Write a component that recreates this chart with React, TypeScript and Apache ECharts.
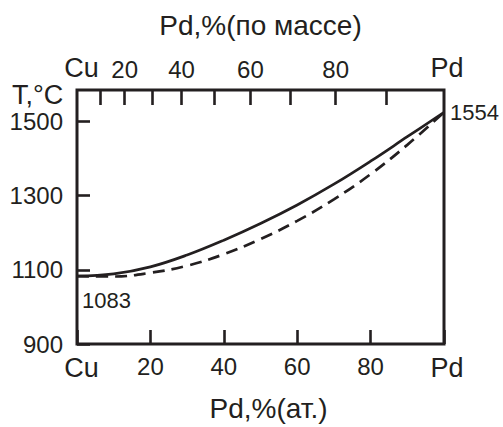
import React, { useEffect, useRef } from "react";
import * as echarts from "echarts";

// atomic % Pd
const atPct = [0, 10, 20, 30, 40, 50, 60, 70, 80, 90, 100];
// liquidus (solid line), °C
const liquidus = [1083, 1089, 1108, 1140, 1180, 1225, 1275, 1331, 1393, 1459, 1525];
// solidus (dashed line), °C
const solidus = [1083, 1082, 1092, 1111, 1142, 1183, 1232, 1290, 1358, 1437, 1525];

const bottomLabels = [0, 20, 40, 60, 80, 100];
const topTickMass = [10, 20, 30, 40, 50, 60, 70, 80, 90];
const topLabelMass = [0, 20, 40, 60, 80, 100];
const yTicks = [900, 1100, 1300, 1500];

const M_PD = 106.42;
const M_CU = 63.55;
const massToAt = (w: number) => {
  if (w <= 0) return 0;
  if (w >= 100) return 100;
  const a = w / M_PD;
  const b = (100 - w) / M_CU;
  return (100 * a) / (a + b);
};
const atToMass = (x: number) => {
  if (x <= 0) return 0;
  if (x >= 100) return 100;
  const a = x * M_PD;
  const b = (100 - x) * M_CU;
  return (100 * a) / (a + b);
};
const endName = (v: number) =>
  v <= 0.001 ? "{c|Cu}" : v >= 99.999 ? "{p|Pd}" : String(Math.round(v));

const INK = "#231f20";
const FONT = "Liberation Sans, Arial, sans-serif";

export default function App() {
  const ref = useRef<HTMLDivElement>(null);
  useEffect(() => {
    if (!ref.current) return;
    const chart = echarts.init(ref.current, undefined, { renderer: "svg" });
    const tickStyle = { color: INK, width: 2.6 };
    const rich = {
      c: { fontSize: 27, fontFamily: FONT, color: INK, padding: [0, 0, 0, 9] },
      p: { fontSize: 27, fontFamily: FONT, color: INK, padding: [0, 0, 0, 6] },
    };
    chart.setOption({
      animation: false,
      backgroundColor: "#ffffff",
      textStyle: { fontFamily: FONT, color: INK },
      grid: {
        left: 77,
        right: 59,
        top: 90,
        bottom: 81,
        show: true,
        borderColor: INK,
        borderWidth: 3,
        backgroundColor: "transparent",
      },
      xAxis: [
        {
          type: "value",
          position: "bottom",
          min: 0,
          max: 100,
          interval: 20,
          axisLine: { show: false },
          splitLine: { show: false },
          axisTick: { show: true, inside: true, length: 14, lineStyle: tickStyle },
          axisLabel: {
            customValues: bottomLabels,
            fontSize: 24,
            fontFamily: FONT,
            color: INK,
            margin: 10,
            rich,
            formatter: (v: number) => endName(v),
          },
          name: "Pd,%(ат.)",
          nameLocation: "middle",
          nameGap: 50,
          nameTextStyle: { fontSize: 28, fontFamily: FONT, color: INK, padding: [0, 0, 0, 16] },
        },
        {
          type: "value",
          position: "top",
          min: 0,
          max: 100,
          axisLine: { show: false },
          splitLine: { show: false },
          axisTick: {
            show: true,
            inside: true,
            length: 15,
            lineStyle: tickStyle,
            customValues: topTickMass.map(massToAt),
          },
          axisLabel: {
            customValues: topLabelMass.map(massToAt),
            fontSize: 24,
            fontFamily: FONT,
            color: INK,
            margin: 9,
            rich,
            formatter: (v: number) => endName(atToMass(v)),
          },
          name: "Pd,%(по массе)",
          nameLocation: "middle",
          nameGap: 51,
          nameTextStyle: { fontSize: 28, fontFamily: FONT, color: INK },
        },
      ],
      yAxis: {
        type: "value",
        min: 900,
        max: 1585,
        axisLine: { show: false },
        splitLine: { show: false },
        axisTick: { show: true, inside: true, length: 13, lineStyle: tickStyle, customValues: yTicks },
        axisLabel: {
          customValues: yTicks,
          fontSize: 24,
          fontFamily: FONT,
          color: INK,
          margin: 14,
          formatter: (v: number) => String(v),
        },
      },
      series: [
        {
          type: "line",
          data: atPct.map((x, i) => [x, liquidus[i]]),
          smooth: 0.4,
          symbol: "none",
          lineStyle: { color: INK, width: 2.7 },
          z: 3,
        },
        {
          type: "line",
          data: atPct.map((x, i) => [x, solidus[i]]),
          smooth: 0.4,
          symbol: "none",
          lineStyle: { color: INK, width: 2.7, type: [12, 7] },
          z: 3,
        },
      ],
      graphic: [
        {
          type: "text",
          left: 12,
          top: 81,
          style: { text: "T,°C", fontSize: 27, fontFamily: FONT, fill: INK },
        },
        {
          type: "text",
          left: 450,
          top: 101,
          style: { text: "1554", fontSize: 22, fontFamily: FONT, fill: INK },
        },
        {
          type: "text",
          left: 82,
          top: 289,
          style: { text: "1083", fontSize: 22, fontFamily: FONT, fill: INK },
        },
      ],
    });
    return () => chart.dispose();
  }, []);
  return <div ref={ref} style={{ width: 503, height: 427, position: "absolute", left: 0, top: 0 }} />;
}
